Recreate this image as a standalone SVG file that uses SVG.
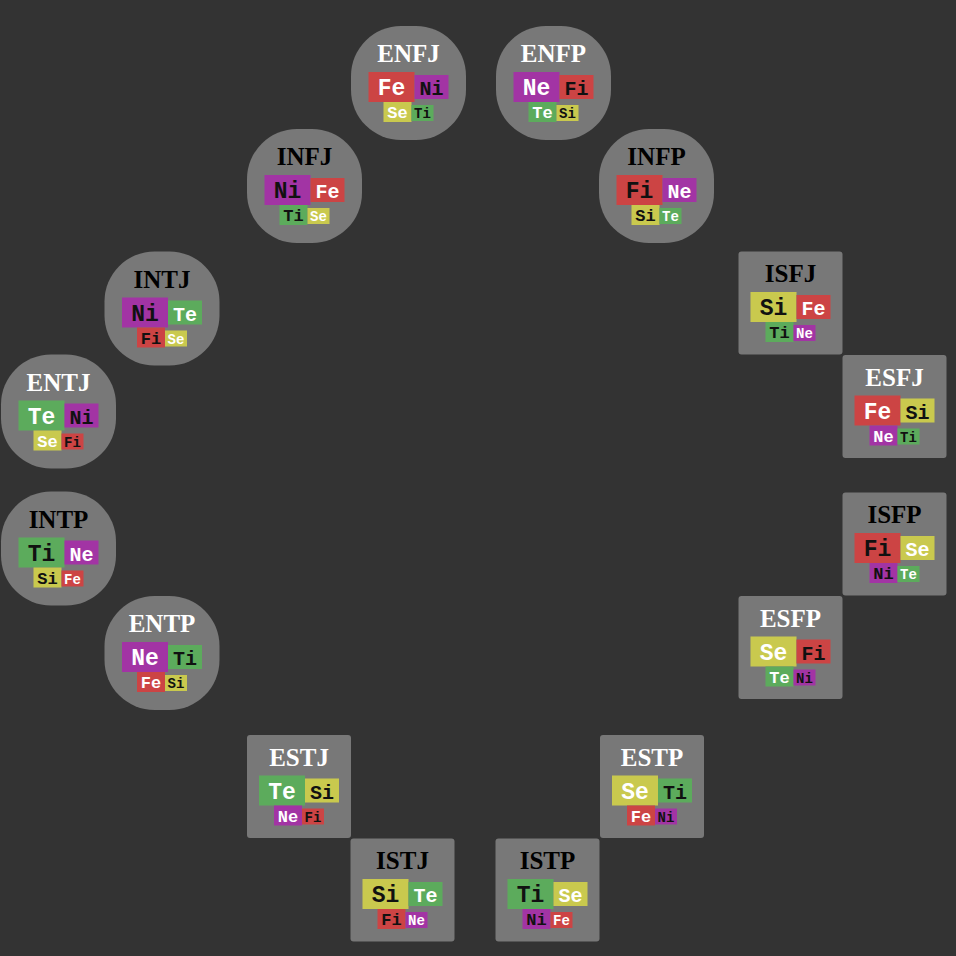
<svg xmlns="http://www.w3.org/2000/svg" width="956" height="956" viewBox="0 0 956 956">
<style>
.bg{fill:#333333}
.nc{fill:#787878}
.ns{fill:#787878}
.title{font-family:"Liberation Serif","Times New Roman",serif;font-weight:bold;font-size:25px;text-anchor:middle}
.tE{fill:#ffffff}
.tI{fill:#000000}
.fn{font-family:"Liberation Mono","Courier New",monospace;font-weight:bold;text-anchor:middle}
.f1{font-size:23px}
.f2{font-size:20px}
.f3{font-size:17px}
.f4{font-size:14px}
.F{fill:#cc4444}
.N{fill:#a234a4}
.S{fill:#c9c94e}
.T{fill:#5cab5c}
.e{fill:#ffffff}
.i{fill:#111111}
</style>
<defs>
<rect id="circ" class="nc" x="-57.5" y="-57" width="115" height="114" rx="50" ry="50"/>
<rect id="sq" class="ns" x="-52" y="-51.5" width="104" height="103" rx="3" ry="3"/>
</defs>
<rect class="bg" x="0" y="0" width="956" height="956"/>
<g id="connectors"/>

<g id="ENFJ" transform="translate(408.5,83)">
<use href="#circ"/>
<text class="title tE" x="0" y="-21">ENFJ</text>
<rect class="F" x="-40" y="-11" width="46" height="30"/><text class="fn f1 e" x="-17" y="12">Fe</text>
<rect class="N" x="6" y="-8" width="34" height="24"/><text class="fn f2 i" x="23" y="12">Ni</text>
<rect class="S" x="-25" y="19" width="28" height="20"/><text class="fn f3 e" x="-11" y="35">Se</text>
<rect class="T" x="3" y="22" width="22" height="16"/><text class="fn f4 i" x="14" y="35">Ti</text>
</g>

<g id="ENFP" transform="translate(553.5,83)">
<use href="#circ"/>
<text class="title tE" x="0" y="-21">ENFP</text>
<rect class="N" x="-40" y="-11" width="46" height="30"/><text class="fn f1 e" x="-17" y="12">Ne</text>
<rect class="F" x="6" y="-8" width="34" height="24"/><text class="fn f2 i" x="23" y="12">Fi</text>
<rect class="T" x="-25" y="19" width="28" height="20"/><text class="fn f3 e" x="-11" y="35">Te</text>
<rect class="S" x="3" y="22" width="22" height="16"/><text class="fn f4 i" x="14" y="35">Si</text>
</g>

<g id="INFJ" transform="translate(304.5,186)">
<use href="#circ"/>
<text class="title tI" x="0" y="-21">INFJ</text>
<rect class="N" x="-40" y="-11" width="46" height="30"/><text class="fn f1 i" x="-17" y="12">Ni</text>
<rect class="F" x="6" y="-8" width="34" height="24"/><text class="fn f2 e" x="23" y="12">Fe</text>
<rect class="T" x="-25" y="19" width="28" height="20"/><text class="fn f3 i" x="-11" y="35">Ti</text>
<rect class="S" x="3" y="22" width="22" height="16"/><text class="fn f4 e" x="14" y="35">Se</text>
</g>

<g id="INFP" transform="translate(656.5,186)">
<use href="#circ"/>
<text class="title tI" x="0" y="-21">INFP</text>
<rect class="F" x="-40" y="-11" width="46" height="30"/><text class="fn f1 i" x="-17" y="12">Fi</text>
<rect class="N" x="6" y="-8" width="34" height="24"/><text class="fn f2 e" x="23" y="12">Ne</text>
<rect class="S" x="-25" y="19" width="28" height="20"/><text class="fn f3 i" x="-11" y="35">Si</text>
<rect class="T" x="3" y="22" width="22" height="16"/><text class="fn f4 e" x="14" y="35">Te</text>
</g>

<g id="INTJ" transform="translate(162,308.5)">
<use href="#circ"/>
<text class="title tI" x="0" y="-21">INTJ</text>
<rect class="N" x="-40" y="-11" width="46" height="30"/><text class="fn f1 i" x="-17" y="12">Ni</text>
<rect class="T" x="6" y="-8" width="34" height="24"/><text class="fn f2 e" x="23" y="12">Te</text>
<rect class="F" x="-25" y="19" width="28" height="20"/><text class="fn f3 i" x="-11" y="35">Fi</text>
<rect class="S" x="3" y="22" width="22" height="16"/><text class="fn f4 e" x="14" y="35">Se</text>
</g>

<g id="ENTJ" transform="translate(58.5,411.5)">
<use href="#circ"/>
<text class="title tE" x="0" y="-21">ENTJ</text>
<rect class="T" x="-40" y="-11" width="46" height="30"/><text class="fn f1 e" x="-17" y="12">Te</text>
<rect class="N" x="6" y="-8" width="34" height="24"/><text class="fn f2 i" x="23" y="12">Ni</text>
<rect class="S" x="-25" y="19" width="28" height="20"/><text class="fn f3 e" x="-11" y="35">Se</text>
<rect class="F" x="3" y="22" width="22" height="16"/><text class="fn f4 i" x="14" y="35">Fi</text>
</g>

<g id="INTP" transform="translate(58.5,548.5)">
<use href="#circ"/>
<text class="title tI" x="0" y="-21">INTP</text>
<rect class="T" x="-40" y="-11" width="46" height="30"/><text class="fn f1 i" x="-17" y="12">Ti</text>
<rect class="N" x="6" y="-8" width="34" height="24"/><text class="fn f2 e" x="23" y="12">Ne</text>
<rect class="S" x="-25" y="19" width="28" height="20"/><text class="fn f3 i" x="-11" y="35">Si</text>
<rect class="F" x="3" y="22" width="22" height="16"/><text class="fn f4 e" x="14" y="35">Fe</text>
</g>

<g id="ENTP" transform="translate(162,653)">
<use href="#circ"/>
<text class="title tE" x="0" y="-21">ENTP</text>
<rect class="N" x="-40" y="-11" width="46" height="30"/><text class="fn f1 e" x="-17" y="12">Ne</text>
<rect class="T" x="6" y="-8" width="34" height="24"/><text class="fn f2 i" x="23" y="12">Ti</text>
<rect class="F" x="-25" y="19" width="28" height="20"/><text class="fn f3 e" x="-11" y="35">Fe</text>
<rect class="S" x="3" y="22" width="22" height="16"/><text class="fn f4 i" x="14" y="35">Si</text>
</g>

<g id="ISFJ" transform="translate(790.5,303)">
<use href="#sq"/>
<text class="title tI" x="0" y="-21">ISFJ</text>
<rect class="S" x="-40" y="-11" width="46" height="30"/><text class="fn f1 i" x="-17" y="12">Si</text>
<rect class="F" x="6" y="-8" width="34" height="24"/><text class="fn f2 e" x="23" y="12">Fe</text>
<rect class="T" x="-25" y="19" width="28" height="20"/><text class="fn f3 i" x="-11" y="35">Ti</text>
<rect class="N" x="3" y="22" width="22" height="16"/><text class="fn f4 e" x="14" y="35">Ne</text>
</g>

<g id="ESFJ" transform="translate(894.5,406.5)">
<use href="#sq"/>
<text class="title tE" x="0" y="-21">ESFJ</text>
<rect class="F" x="-40" y="-11" width="46" height="30"/><text class="fn f1 e" x="-17" y="12">Fe</text>
<rect class="S" x="6" y="-8" width="34" height="24"/><text class="fn f2 i" x="23" y="12">Si</text>
<rect class="N" x="-25" y="19" width="28" height="20"/><text class="fn f3 e" x="-11" y="35">Ne</text>
<rect class="T" x="3" y="22" width="22" height="16"/><text class="fn f4 i" x="14" y="35">Ti</text>
</g>

<g id="ISFP" transform="translate(894.5,544)">
<use href="#sq"/>
<text class="title tI" x="0" y="-21">ISFP</text>
<rect class="F" x="-40" y="-11" width="46" height="30"/><text class="fn f1 i" x="-17" y="12">Fi</text>
<rect class="S" x="6" y="-8" width="34" height="24"/><text class="fn f2 e" x="23" y="12">Se</text>
<rect class="N" x="-25" y="19" width="28" height="20"/><text class="fn f3 i" x="-11" y="35">Ni</text>
<rect class="T" x="3" y="22" width="22" height="16"/><text class="fn f4 e" x="14" y="35">Te</text>
</g>

<g id="ESFP" transform="translate(790.5,647.5)">
<use href="#sq"/>
<text class="title tE" x="0" y="-21">ESFP</text>
<rect class="S" x="-40" y="-11" width="46" height="30"/><text class="fn f1 e" x="-17" y="12">Se</text>
<rect class="F" x="6" y="-8" width="34" height="24"/><text class="fn f2 i" x="23" y="12">Fi</text>
<rect class="T" x="-25" y="19" width="28" height="20"/><text class="fn f3 e" x="-11" y="35">Te</text>
<rect class="N" x="3" y="22" width="22" height="16"/><text class="fn f4 i" x="14" y="35">Ni</text>
</g>

<g id="ESTJ" transform="translate(299,786.5)">
<use href="#sq"/>
<text class="title tE" x="0" y="-21">ESTJ</text>
<rect class="T" x="-40" y="-11" width="46" height="30"/><text class="fn f1 e" x="-17" y="12">Te</text>
<rect class="S" x="6" y="-8" width="34" height="24"/><text class="fn f2 i" x="23" y="12">Si</text>
<rect class="N" x="-25" y="19" width="28" height="20"/><text class="fn f3 e" x="-11" y="35">Ne</text>
<rect class="F" x="3" y="22" width="22" height="16"/><text class="fn f4 i" x="14" y="35">Fi</text>
</g>

<g id="ESTP" transform="translate(652,786.5)">
<use href="#sq"/>
<text class="title tE" x="0" y="-21">ESTP</text>
<rect class="S" x="-40" y="-11" width="46" height="30"/><text class="fn f1 e" x="-17" y="12">Se</text>
<rect class="T" x="6" y="-8" width="34" height="24"/><text class="fn f2 i" x="23" y="12">Ti</text>
<rect class="F" x="-25" y="19" width="28" height="20"/><text class="fn f3 e" x="-11" y="35">Fe</text>
<rect class="N" x="3" y="22" width="22" height="16"/><text class="fn f4 i" x="14" y="35">Ni</text>
</g>

<g id="ISTJ" transform="translate(402.5,890)">
<use href="#sq"/>
<text class="title tI" x="0" y="-21">ISTJ</text>
<rect class="S" x="-40" y="-11" width="46" height="30"/><text class="fn f1 i" x="-17" y="12">Si</text>
<rect class="T" x="6" y="-8" width="34" height="24"/><text class="fn f2 e" x="23" y="12">Te</text>
<rect class="F" x="-25" y="19" width="28" height="20"/><text class="fn f3 i" x="-11" y="35">Fi</text>
<rect class="N" x="3" y="22" width="22" height="16"/><text class="fn f4 e" x="14" y="35">Ne</text>
</g>

<g id="ISTP" transform="translate(547.5,890)">
<use href="#sq"/>
<text class="title tI" x="0" y="-21">ISTP</text>
<rect class="T" x="-40" y="-11" width="46" height="30"/><text class="fn f1 i" x="-17" y="12">Ti</text>
<rect class="S" x="6" y="-8" width="34" height="24"/><text class="fn f2 e" x="23" y="12">Se</text>
<rect class="N" x="-25" y="19" width="28" height="20"/><text class="fn f3 i" x="-11" y="35">Ni</text>
<rect class="F" x="3" y="22" width="22" height="16"/><text class="fn f4 e" x="14" y="35">Fe</text>
</g>
</svg>
